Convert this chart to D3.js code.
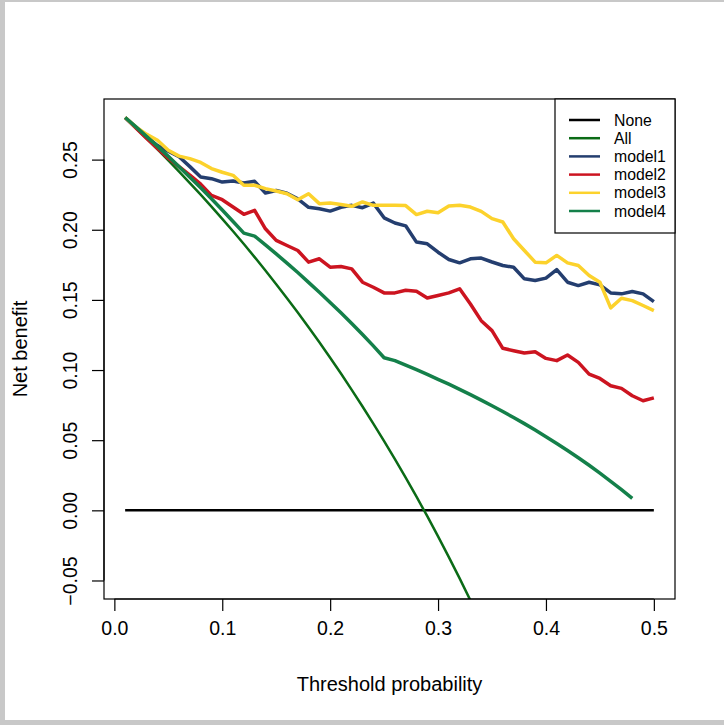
<!DOCTYPE html>
<html>
<head>
<meta charset="utf-8">
<script src="https://cdn.jsdelivr.net/npm/d3@7/dist/d3.min.js"></script>
<style>
  html, body { margin: 0; padding: 0; background: #fff; }
  svg { display: block; }
  text { font-family: "Liberation Sans", Arial, Helvetica, sans-serif; fill: #000; }
</style>
</head>
<body>
<svg id="chart" width="724" height="725"></svg>
<script>
// ---------------- DATA ----------------
const thresholds = [0.01,0.02,0.03,0.04,0.05,0.06,0.07,0.08,0.09,0.10,
  0.11,0.12,0.13,0.14,0.15,0.16,0.17,0.18,0.19,0.20,
  0.21,0.22,0.23,0.24,0.25,0.26,0.27,0.28,0.29,0.30,
  0.31,0.32,0.33,0.34,0.35,0.36,0.37,0.38,0.39,0.40,
  0.41,0.42,0.43,0.44,0.45,0.46,0.47,0.48,0.49,0.50];

const noneNB = [0,0,0,0,0,0,0,0,0,0, 0,0,0,0,0,0,0,0,0,0,
  0,0,0,0,0,0,0,0,0,0, 0,0,0,0,0,0,0,0,0,0, 0,0,0,0,0,0,0,0,0,0];

const allNB = [0.2798,0.2724,0.2649,0.2573,0.2495,0.2415,0.2333,0.2250,0.2165,0.2078,
  0.1989,0.1898,0.1805,0.1709,0.1612,0.1512,0.1410,0.1305,0.1198,0.1088,
  0.0975,0.0859,0.0740,0.0618,0.0493,0.0365,0.0233,0.0097,-0.0042,-0.0186,
  -0.0333,-0.0485,-0.0642,-0.0803,-0.0969,-0.1141,-0.1318,-0.1500,-0.1689,-0.1883,
  -0.2085,-0.2293,-0.2509,-0.2732,-0.2964,-0.3204,-0.3453,-0.3712,-0.3980,-0.4260];

const model1 = [0.280,0.273,0.266,0.260,0.256,0.252,0.245,0.2376,0.2364,0.234,
  0.2348,0.2333,0.2345,0.2262,0.228,0.226,0.222,0.216,0.215,0.2133,
  0.216,0.2174,0.2157,0.219,0.2085,0.2048,0.2028,0.1912,0.190,0.184,
  0.1788,0.1764,0.1793,0.1798,0.177,0.1745,0.1733,0.165,0.1638,0.1655,
  0.1716,0.1626,0.1602,0.1626,0.1607,0.155,0.1543,0.156,0.1543,0.1488];

const model2 = [0.280,0.2725,0.265,0.258,0.251,0.245,0.239,0.2325,0.2245,0.2214,
  0.2162,0.211,0.2138,0.2007,0.1924,0.1888,0.1852,0.1769,0.1793,0.1733,
  0.1738,0.1721,0.1626,0.159,0.155,0.155,0.1569,0.1561,0.1513,0.1531,
  0.155,0.1579,0.1471,0.1352,0.1281,0.1155,0.1138,0.1121,0.1131,0.1083,
  0.1067,0.1107,0.1055,0.0971,0.094,0.0888,0.0869,0.0817,0.0781,0.0802];

const model3 = [0.280,0.2733,0.268,0.2638,0.2567,0.2525,0.2507,0.248,0.2436,0.241,
  0.2388,0.2317,0.2317,0.2293,0.2276,0.2257,0.2214,0.2257,0.2186,0.219,
  0.218,0.2167,0.2198,0.2174,0.2174,0.2174,0.2172,0.2108,0.2132,0.2121,
  0.2169,0.2174,0.2162,0.2131,0.2079,0.2055,0.1936,0.1852,0.1769,0.1764,
  0.1817,0.1764,0.1745,0.1674,0.1626,0.1443,0.1512,0.1495,0.146,0.1424];

const model4 = [0.280,0.2733,0.2664,0.2594,0.2523,0.2449,0.2375,0.2299,0.2221,0.2141,
  0.2059,0.1976,0.1955,0.1892,0.1828,0.1762,0.1695,0.1625,0.1555,0.1482,
  0.1408,0.1331,0.1253,0.1172,0.1088,0.1067,0.1035,0.1003,0.0969,0.0934,
  0.0899,0.0862,0.0825,0.0786,0.0746,0.0704,0.0662,0.0618,0.0572,0.0525,
  0.0477,0.0427,0.0375,0.0321,0.0265,0.0207,0.0147,0.0085,null,null];

const seriesNames  = ["None","All","model1","model2","model3","model4"];
const seriesColors = ["#000000","#0b6b16","#243e6f","#cc1420","#fcd22c","#14804a"];
const seriesWidths = [2.5, 2.5, 3.5, 3.5, 3.5, 3.5];
const seriesData   = [noneNB, allNB, model1, model2, model3, model4];

const xTicks = [0.0,0.1,0.2,0.3,0.4,0.5];
const xTickLabels = ["0.0","0.1","0.2","0.3","0.4","0.5"];
const yTicks = [-0.05,0.00,0.05,0.10,0.15,0.20,0.25];
const yTickLabels = ["\u22120.05","0.00","0.05","0.10","0.15","0.20","0.25"];

// ---------------- LAYOUT ----------------
const svg = d3.select("#chart");
const W = 724, H = 725;
const box = {left: 104, right: 675, top: 99, bottom: 599};

// gray window frame
svg.append("rect").attr("x",0).attr("y",0).attr("width",W).attr("height",H).attr("fill","#c8c8c8");
svg.append("rect").attr("x",5).attr("y",2).attr("width",W-5).attr("height",718).attr("fill","#ffffff");

const xDomLo = 0.01 - 0.04*0.49, xDomHi = 0.50 + 0.04*0.49;
const x = d3.scaleLinear().domain([xDomLo, xDomHi]).range([box.left, box.right]);
const yLo = -0.05 - 0.04*0.33, yHi = 0.28 + 0.04*0.33;
const y = d3.scaleLinear().domain([yLo, yHi]).range([box.bottom, box.top]);

svg.append("clipPath").attr("id","plotclip").append("rect")
  .attr("x",box.left).attr("y",box.top)
  .attr("width",box.right-box.left).attr("height",box.bottom-box.top);

// lines
const line = d3.line()
  .defined(d => d[1] !== null)
  .x(d => x(d[0])).y(d => y(d[1]));

const g = svg.append("g").attr("clip-path","url(#plotclip)");
seriesData.forEach((vals, i) => {
  g.append("path")
    .datum(thresholds.map((t, j) => [t, vals[j]]))
    .attr("d", line)
    .attr("fill","none")
    .attr("stroke", seriesColors[i])
    .attr("stroke-width", seriesWidths[i])
    .attr("stroke-linejoin","round")
    .attr("stroke-linecap","butt");
});

// box
svg.append("rect")
  .attr("x",box.left).attr("y",box.top)
  .attr("width",box.right-box.left).attr("height",box.bottom-box.top)
  .attr("fill","none").attr("stroke","#000").attr("stroke-width",1.2);

// x axis
const xAxis = d3.axisBottom(x).tickValues(xTicks)
  .tickFormat((d,i) => xTickLabels[i]).tickSize(12).tickPadding(10);
const gx = svg.append("g").attr("transform",`translate(0,${box.bottom})`).call(xAxis);
gx.select(".domain").attr("d", `M${x(xTicks[0])},0H${x(xTicks[xTicks.length-1])}`)
  .attr("stroke","#000").attr("stroke-width",1.2);
gx.selectAll(".tick line").attr("stroke","#000").attr("stroke-width",1.2);
gx.selectAll(".tick text").style("font-size","19.5px").attr("fill","#000")
  .style("font-family","'Liberation Sans', Arial, sans-serif");

// y axis
const yAxis = d3.axisLeft(y).tickValues(yTicks)
  .tickFormat((d,i) => yTickLabels[i]).tickSize(12).tickPadding(0);
const gy = svg.append("g").attr("transform",`translate(${box.left},0)`).call(yAxis);
gy.select(".domain").attr("d", `M0,${y(yTicks[0])}V${y(yTicks[yTicks.length-1])}`)
  .attr("stroke","#000").attr("stroke-width",1.2);
gy.selectAll(".tick line").attr("stroke","#000").attr("stroke-width",1.2);
gy.selectAll(".tick text")
  .style("font-size","19.5px").attr("fill","#000")
  .style("font-family","'Liberation Sans', Arial, sans-serif")
  .attr("x", null).attr("dy", null)
  .attr("text-anchor","middle")
  .attr("transform","translate(-27,0) rotate(-90)");

// axis titles
svg.append("text")
  .attr("x",(box.left+box.right)/2).attr("y",691)
  .attr("text-anchor","middle").style("font-size","20px")
  .text("Threshold probability");
svg.append("text")
  .attr("transform",`translate(27,${(box.top+box.bottom)/2}) rotate(-90)`)
  .attr("text-anchor","middle").style("font-size","20px")
  .text("Net benefit");

// legend
const lg = {left: 555, top: 99, right: 675, bottom: 233};
svg.append("rect")
  .attr("x",lg.left).attr("y",lg.top)
  .attr("width",lg.right-lg.left).attr("height",lg.bottom-lg.top)
  .attr("fill","#fff").attr("stroke","#000").attr("stroke-width",1.2);
const rowY = d3.scaleLinear().domain([0,5]).range([120, 211]);
seriesNames.forEach((name, i) => {
  svg.append("line")
    .attr("x1",569).attr("x2",600)
    .attr("y1",rowY(i)).attr("y2",rowY(i))
    .attr("stroke",seriesColors[i]).attr("stroke-width",2.5);
  svg.append("text")
    .attr("x",614).attr("y",rowY(i)).attr("dy","0.35em")
    .style("font-size","15.8px")
    .text(name);
});
</script>
</body>
</html>
